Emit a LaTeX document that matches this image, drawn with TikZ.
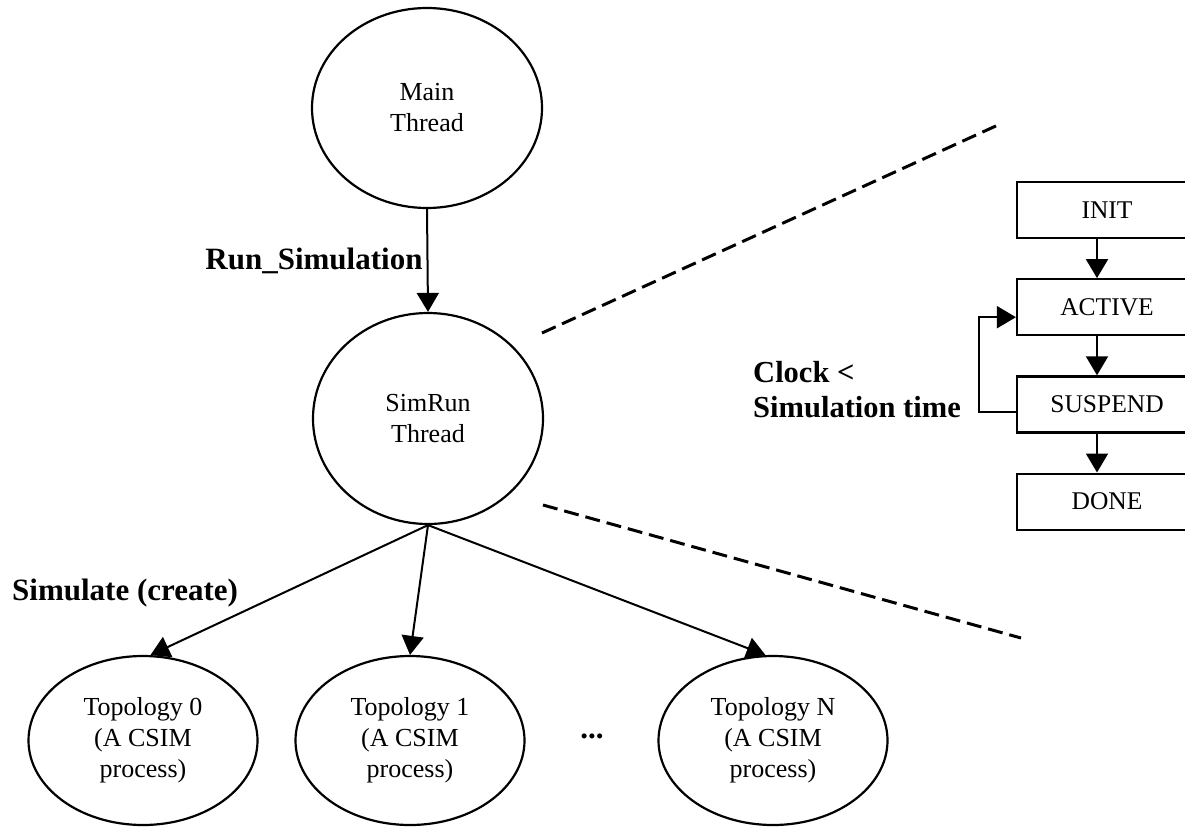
\documentclass[tikz,border=0pt]{standalone}
\usepackage{fontspec}
\setmainfont{Liberation Serif}
\usetikzlibrary{shapes.geometric,arrows.meta,positioning}
\tikzset{
  thread/.style={ellipse,draw=black,line width=2.2pt,
    align=center,inner sep=2pt,
    font=\fontsize{26}{31}\selectfont},
  topo/.style={thread,minimum width=229pt,minimum height=169pt},
  statebox/.style={rectangle,draw=black,line width=2.2pt,
    minimum width=180pt,minimum height=56pt,
    font=\fontsize{25.5}{31}\selectfont},
  lbl/.style={font=\bfseries\fontsize{31}{36}\selectfont,inner sep=0pt},
  arr/.style={-{Triangle[length=19pt,width=22pt]},line width=2pt},
  zoomline/.style={line width=3pt,dash pattern=on 15pt off 7pt},
}

\begin{document}
\begin{tikzpicture}[x=1pt,y=-1pt]
  \clip (0,0) rectangle (1185,827);
  % threads
  \node (main) [thread,minimum width=230pt,minimum height=200pt]
    at (427,108) {Main\\Thread};
  \node (sim) [thread,minimum width=230pt,minimum height=211pt]
    at (428,418.5) {SimRun\\Thread};
  \node (t0) [topo] at (143,740.5) {Topology 0\\(A CSIM\\process)};
  \node (t1) [topo] at (410,740.5) {Topology 1\\(A CSIM\\process)};
  \node (tn) [topo] at (773,740.5) {Topology N\\(A CSIM\\process)};
  \node (dots) [lbl] at (592,736) {...};
  % process states
  \node (init) [statebox] at (1107,210) {INIT};
  \node (active) [statebox,below=39pt of init] {ACTIVE};
  \node (susp) [statebox,below=39pt of active] {SUSPEND};
  \node (done) [statebox,below=39pt of susp] {DONE};
  % labels
  \node (simlbl) [lbl,anchor=west] at (12,593) {Simulate (create)};
  \node (clocklbl) [lbl,anchor=east,align=left,
    font=\bfseries\fontsize{30.5}{35}\selectfont] at (961,390)
    {Clock <\\Simulation time};

  \draw[arr] (main.south) -- node[lbl,left=4pt]{Run\_Simulation} (sim.north);
  \draw[arr] (sim.south) -- (t0.85);
  \draw[arr] (sim.south) -- (t1.north);
  \draw[arr] (sim.south) -- (tn.95);
  \draw[arr] ([xshift=-10pt]init.south) -- ([xshift=-10pt]active.north);
  \draw[arr] ([xshift=-10pt]active.south) -- ([xshift=-10pt]susp.north);
  \draw[arr] ([xshift=-10pt]susp.south) -- ([xshift=-10pt]done.north);
  \draw[arr] ([yshift=-8pt]susp.west) -- ++(-37,0) |- ([yshift=-10pt]active.west);
  % zoom lines
  \coordinate (zt0) at (542,333);
  \coordinate (zt1) at (998,125);
  \coordinate (zb0) at (543,505);
  \coordinate (zb1) at (1021,638);
  \draw[zoomline] (zt0) -- (zt1);
  \draw[zoomline] (zb0) -- (zb1);
\end{tikzpicture}
\end{document}
